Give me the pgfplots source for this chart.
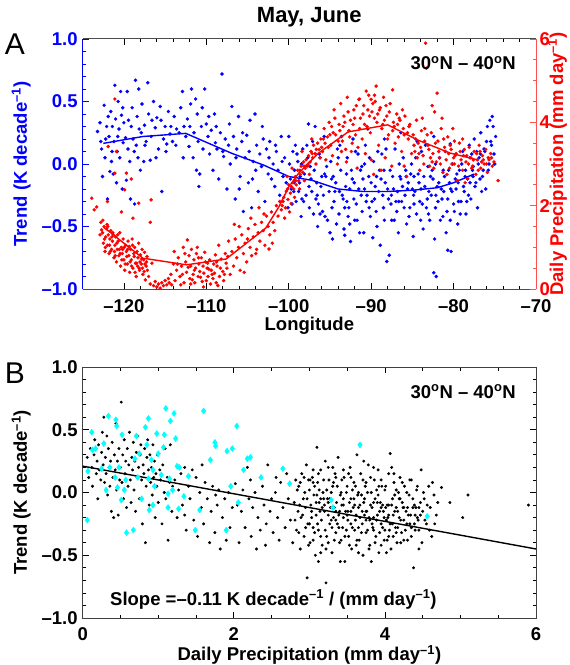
\documentclass[border=0pt]{standalone}
\usepackage{fontspec}
\setmainfont{Liberation Sans}
\usepackage{pgfplots}
\pgfplotsset{compat=1.18}
\definecolor{idlblue}{RGB}{0,0,255}
\definecolor{idlred}{RGB}{255,0,0}
\definecolor{axred}{RGB}{255,80,80}
\definecolor{idlcyan}{RGB}{0,255,255}
\newcommand{\fnt}{\bfseries\fontsize{18.5bp}{20bp}\selectfont}
\pgfplotsset{
  common/.style={scale only axis, width=453.3bp, tick align=inside,
    major tick length=6bp, minor tick length=3.5bp,
    tick label style={font=\fnt}, label style={font=\fnt},
    xticklabel style={anchor=base, yshift=-23.5bp, inner sep=0bp},
    xlabel style={inner sep=0bp},
    every tick/.style={line width=0.8bp}},
}
\begin{document}
\begin{tikzpicture}
\path[use as bounding box] (-82.7bp,-376bp) rectangle (487.3bp,289bp);
% ---------------- Panel A, left axis (trend) ----------------
\begin{axis}[common, at={(0,0)}, anchor=south west, height=250bp,
  xmin=-125, xmax=-70, ymin=-1, ymax=1,
  axis y line*=left, axis x line*=box,
  xtick={-120,-110,-100,-90,-80,-70}, xticklabels={–120,–110,–100,–90,–80,–70},
  minor x tick num=4,
  ytick={-1,-0.5,0,0.5,1}, yticklabels={–1.0,–0.5,0.0,0.5,1.0}, minor y tick num=4,
  y axis line style={-, idlblue, line width=1bp}, x axis line style={-, black!70, line width=1bp},
  y tick style={idlblue}, x tick style={black},
  yticklabel style={idlblue, xshift=-1.5bp},
  ylabel={Trend (K decade\textsuperscript{–1})},
  ylabel style={idlblue, at={(axis description cs:-0.123,0.5)}, anchor=base},
  xlabel={Longitude}, xlabel style={at={(axis description cs:0.5,-0.166)}, anchor=base},
]
\addplot[only marks, mark=*, mark size=1.55bp, idlblue] coordinates {
(-123.2,0.26)(-122.9,0.33)(-122.7,0.12)(-122.6,-0.1)(-122.4,0.47)(-122.3,0.05)(-122.2,0.2)(-122.0,-0.28)(-121.9,0.38)(-121.8,0.22)(-121.7,-0.06)(-121.6,0.42)(-121.5,0.02)(-121.4,0.3)(-121.3,-0.08)(-121.2,0.18)(-121.1,0.63)(-121.0,0.36)(-120.9,-0.15)(-120.8,0.1)(-120.7,0.5)(-120.6,0.28)(-120.5,0.05)(-120.4,0.58)(-120.3,0.39)(-120.2,-0.2)(-120.1,0.17)(-120.0,0.33)(-119.8,0.21)(-119.7,-0.13)(-119.6,0.58)(-119.5,0.12)(-119.3,0.02)(-119.2,-0.28)(-119.1,0.3)(-119.0,0.45)(-118.9,0.2)(-118.7,-0.32)(-118.6,0.67)(-118.5,0.15)(-118.4,0.38)(-118.3,0.05)(-118.2,0.6)(-118.0,-0.05)(-117.9,0.25)(-117.8,0.48)(-117.6,0.02)(-117.5,0.31)(-117.3,0.18)(-117.1,0.65)(-117.0,0.4)(-116.8,0.03)(-116.6,0.35)(-116.4,0.5)(-116.2,0.29)(-116.0,0.37)(-115.8,0.12)(-115.6,0.46)(-115.4,-0.22)(-115.2,0.2)(-115.0,0.3)(-114.8,0.16)(-114.6,0.42)(-114.4,0.24)(-114.1,0.18)(-113.9,0.38)(-113.6,0.28)(-113.3,0.25)(-113.1,0.45)
(-122.8,0.18)(-122.1,0.3)(-121.45,0.1)(-120.75,0.22)(-120.15,0.45)(-119.45,0.35)(-118.75,0.1)(-118.15,0.28)(-117.45,0.15)(-116.7,0.22)(-116.1,0.05)(-115.5,0.35)(-114.9,0.1)(-114.3,0.3)(-113.7,0.15)
(-112.9,0.58)(-112.7,0.3)(-112.5,0.22)(-112.3,0.36)(-112.1,0.14)(-111.9,0.48)(-111.8,0.6)(-111.6,0.05)(-111.5,0.25)(-111.3,0.52)(-111.1,0.4)(-111.0,0.18)(-110.8,-0.08)(-110.6,0.3)(-110.4,0.12)(-110.2,0.6)(-110.0,0.32)(-109.8,0.22)(-109.6,0.08)(-109.4,0.27)(-109.2,-0.05)(-109.0,0.4)(-108.9,0.17)(-108.7,0.12)(-108.5,-0.12)(-108.3,0.25)(-108.1,0.72)(-107.9,0.06)(-107.7,0.2)(-107.5,-0.2)(-107.3,0.15)(-107.1,0.0)(-106.9,0.46)(-106.7,0.22)(-106.5,-0.28)(-106.3,0.12)(-106.1,0.38)(-105.9,-0.1)(-105.7,0.18)(-105.5,-0.38)(-105.3,0.05)(-105.1,0.23)(-104.9,-0.15)(-104.7,0.35)(-104.5,-0.35)(-104.3,0.02)(-104.1,0.4)(-103.9,0.15)(-103.7,-0.22)(-103.5,0.08)(-103.3,-0.02)(-103.1,0.2)(-102.9,-0.3)(-102.7,0.12)(-102.5,-0.08)(-102.3,0.18)(-102.1,-0.12)(-101.9,0.0)(-101.7,-0.18)(-101.5,0.1)(-101.3,-0.05)(-101.1,-0.25)(-100.9,0.22)(-100.7,-0.1)(-100.5,0.05)(-100.3,-0.15)(-100.1,-0.35)
(-112.8,0.05)(-112.0,0.3)(-111.2,-0.05)(-110.5,0.45)(-109.7,0.38)(-108.8,0.3)(-108.0,0.1)(-107.2,0.32)(-106.4,0.05)(-105.6,0.25)(-104.8,0.1)(-104.0,-0.05)(-103.2,0.3)(-102.4,0.05)(-101.6,0.15)(-100.8,0.02)(-110.9,-0.18)(-106.0,-0.2)(-104.4,-0.12)
(-99.9,0.0)(-99.7,-0.2)(-99.5,0.1)(-99.3,-0.05)(-99.1,-0.3)(-98.9,0.02)(-98.7,-0.15)(-98.5,-0.42)(-98.3,0.12)(-98.1,-0.08)(-97.9,-0.25)(-97.7,0.05)(-97.5,-0.35)(-97.3,-0.12)(-97.1,0.18)(-96.9,-0.05)(-96.7,-0.28)(-96.5,-0.5)(-96.3,0.08)(-96.1,-0.18)(-95.9,-0.38)(-95.7,0.22)(-95.5,-0.1)(-95.3,-0.45)(-95.1,-0.22)(-94.9,0.02)(-94.7,-0.6)(-94.5,-0.3)(-94.3,-0.15)(-94.1,0.12)(-93.9,-0.4)(-93.7,-0.05)(-93.5,-0.25)(-93.3,-0.52)(-93.1,-0.18)(-92.9,0.05)(-92.7,-0.35)(-92.5,-0.62)(-92.3,-0.12)(-92.1,-0.28)(-91.9,0.1)(-91.7,-0.45)(-91.5,-0.2)(-91.3,-0.05)(-91.1,-0.38)(-90.9,-0.55)(-90.7,0.15)(-90.5,-0.25)(-90.3,-0.1)(-90.1,-0.42)(-89.9,-0.3)(-89.7,0.02)(-89.5,-0.18)(-89.3,-0.5)(-89.1,-0.22)(-88.9,-0.65)(-88.7,0.08)(-88.5,-0.35)(-88.3,-0.15)(-88.1,-0.78)(-87.9,-0.28)(-87.7,-0.05)(-87.5,-0.45)(-87.3,-0.2)(-87.1,0.12)(-86.9,-0.38)(-86.7,-0.55)(-86.5,-0.1)(-86.3,-0.3)(-86.1,0.05)(-85.9,-0.25)(-85.7,-0.48)(-85.5,-0.15)(-85.3,-0.35)(-85.1,0.0)(-84.9,-0.58)(-84.7,-0.22)(-84.5,-0.4)(-84.3,-0.08)(-84.1,-0.3)(-83.9,0.1)(-83.7,-0.52)(-83.5,-0.18)(-83.3,-0.35)(-83.1,-0.02)(-82.9,-0.45)(-82.7,-0.25)(-82.5,-0.12)(-82.3,-0.6)(-82.1,-0.9)(-81.9,-0.3)(-81.7,0.05)(-81.5,-0.2)(-81.3,-0.42)(-81.1,-0.1)(-80.9,-0.55)(-80.7,-0.28)(-80.5,-0.15)(-80.3,-0.7)(-80.1,0.0)(-79.9,-0.38)(-79.7,-0.2)(-79.5,-0.48)(-79.3,-0.05)(-79.1,-0.3)(-78.9,0.1)(-78.7,-0.22)(-78.5,-0.4)(-78.3,-0.12)(-78.1,0.15)(-77.9,-0.28)(-77.7,-0.05)(-77.5,0.2)(-77.3,-0.15)(-77.1,-0.35)(-76.9,0.05)(-76.7,0.25)(-76.5,-0.1)(-76.3,0.12)(-76.1,-0.2)(-75.9,0.3)(-75.7,0.0)(-75.5,0.18)(-75.3,0.38)(-75.1,0.08)(-74.9,0.22)
(-99.8,-0.12)(-99.4,-0.22)(-99.0,0.08)(-98.6,-0.1)(-98.2,-0.3)(-97.8,0.15)(-97.4,-0.02)(-97.0,-0.4)(-96.6,-0.15)(-96.2,0.05)(-95.8,-0.25)(-95.4,-0.02)(-95.0,-0.55)(-94.6,-0.1)(-94.2,-0.48)(-93.8,0.15)(-93.4,-0.28)(-93.0,-0.08)(-92.6,-0.2)(-92.2,0.2)(-91.8,-0.32)(-91.4,-0.55)(-91.0,-0.12)(-90.6,-0.3)(-90.2,0.05)(-89.8,-0.59)(-89.4,-0.38)(-89.0,-0.05)(-88.6,-0.25)(-88.2,0.12)(-87.8,-0.73)(-87.4,-0.1)(-87.0,-0.3)(-86.6,0.0)(-86.2,-0.18)(-85.8,-0.05)(-85.4,-0.42)(-85.0,-0.2)(-84.6,0.05)(-84.2,-0.15)(-83.8,-0.32)(-83.4,0.15)(-83.0,-0.22)(-82.6,-0.05)(-82.4,-0.87)(-82.2,-0.35)(-81.8,-0.15)(-81.4,-0.28)(-81.0,0.1)(-80.6,-0.05)(-80.2,-0.22)(-79.8,-0.12)(-79.4,-0.3)(-79.0,0.0)(-78.6,-0.1)(-78.2,-0.25)(-77.8,0.08)(-77.4,-0.18)(-77.0,0.0)(-76.6,-0.22)(-76.2,0.1)(-75.8,-0.05)(-75.6,0.35)(-75.2,0.3)(-75.4,0.15)
(-96.8,0.3)(-93.6,0.22)(-90.4,0.28)(-88.4,0.2)(-86.4,0.25)(-84.4,0.18)(-82.4,0.22)(-80.4,0.16)(-91.6,0.08)(-97.6,0.32)(-100.0,0.22)(-93.2,-0.57)(-80.7,-0.69)
(-98.8,-0.22)(-96.4,-0.32)(-94.8,-0.12)(-92.8,-0.42)(-90.8,-0.2)(-88.8,-0.12)(-86.8,-0.22)(-84.8,-0.32)(-82.8,-0.1)(-80.8,-0.38)(-78.8,-0.18)(-76.8,-0.12)
(-99.6,-0.32)(-99.2,0.15)(-98.4,-0.28)(-98.0,-0.02)(-97.2,-0.22)(-96.0,-0.1)(-95.6,-0.42)(-94.4,-0.22)(-94.0,0.05)(-93.2,-0.35)(-92.4,-0.05)(-92.0,-0.45)(-91.2,-0.25)(-90.0,-0.15)(-89.6,-0.28)(-89.2,0.1)(-88.0,-0.2)(-87.6,-0.32)(-87.2,-0.45)(-86.0,-0.35)(-85.6,-0.2)(-85.2,-0.08)(-84.0,-0.45)(-83.6,-0.1)(-83.2,-0.28)(-82.0,-0.18)(-81.6,-0.45)(-81.2,-0.22)(-80.0,-0.32)(-79.6,-0.08)(-79.2,-0.4)(-78.4,-0.3)(-78.0,-0.15)(-77.6,-0.02)(-77.2,0.1)(-76.4,-0.05)(-76.0,0.18)(-75.0,0.0)(-96.2,-0.4)(-92.6,-0.48)(-88.4,-0.45)(-84.8,-0.1)(-80.4,-0.45)(-90.8,0.0)(-86.4,-0.12)(-82.2,0.0)(-78.0,0.05)
(-99.35,-0.15)(-98.45,0.0)(-97.55,-0.18)(-96.55,-0.25)(-95.65,-0.08)(-94.75,-0.35)(-93.85,-0.22)(-92.95,-0.3)(-92.05,-0.15)(-91.15,-0.02)(-90.25,-0.35)(-89.35,-0.1)(-88.45,-0.05)(-87.55,-0.25)(-86.65,-0.3)(-85.75,-0.1)(-84.85,-0.25)(-83.95,-0.2)(-83.05,-0.4)(-82.15,-0.25)(-81.25,-0.05)(-80.35,-0.2)(-79.45,-0.15)(-78.55,-0.05)(-77.65,-0.1)(-76.75,0.08)
};
\addplot[idlblue, line width=1.4bp] coordinates {
(-122.5,0.165)(-117.7,0.22)(-112.5,0.245)(-106.9,0.085)(-103,-0.01)(-100,-0.10)(-97.2,-0.13)(-94,-0.2)(-91,-0.22)(-88,-0.22)(-85,-0.21)(-82,-0.19)(-80,-0.15)(-77.5,-0.08)
};
\end{axis}
% ---------------- Panel A, right axis (precipitation) ----------------
\begin{axis}[common, at={(0,0)}, anchor=south west, height=250bp,
  xmin=-125, xmax=-70, ymin=0, ymax=6,
  axis y line*=right, axis x line=none,
  ytick={0,2,4,6}, yticklabels={0,2,4,6}, minor y tick num=3,
  y axis line style={-, axred, line width=1bp}, y tick style={axred},
  yticklabel style={idlred},
  ylabel={Daily Precipitation (mm day\textsuperscript{–1})},
  ylabel style={idlred, at={(axis description cs:1.0596,0.5)}, anchor=base},
]
\addplot[only marks, mark=*, mark size=1.55bp, idlred] coordinates {
(-122.8,1.6)(-122.6,1.35)(-122.5,1.1)(-122.4,1.5)(-122.3,0.9)(-122.2,1.25)(-122.1,1.45)(-122.0,1.05)(-121.9,1.3)(-121.8,0.85)(-121.7,1.2)(-121.6,1.4)(-121.5,0.95)(-121.4,1.15)(-121.3,1.3)(-121.2,0.75)(-121.1,1.05)(-121.0,1.25)(-120.9,0.65)(-120.8,0.95)(-120.7,1.15)(-120.6,0.8)(-120.5,1.35)(-120.4,0.55)(-120.3,1.0)(-120.2,0.85)(-120.1,1.2)(-120.0,0.7)(-119.9,0.45)(-119.8,1.05)(-119.7,0.9)(-119.6,0.6)(-119.5,1.15)(-119.4,0.8)(-119.3,0.4)(-119.2,0.95)(-119.1,0.7)(-119.0,1.2)(-118.9,0.5)(-118.8,0.85)(-118.7,1.0)(-118.6,0.62)(-118.5,0.3)(-118.4,0.9)(-118.3,0.75)(-118.2,1.1)(-118.1,0.45)(-118.0,0.82)(-117.9,0.6)(-117.8,0.95)(-117.7,0.35)(-117.6,0.7)(-117.5,0.88)(-117.4,0.22)(-117.3,0.55)(-117.2,0.78)(-117.0,0.3)(-116.8,0.12)(-116.6,0.62)(-116.4,0.08)(-116.2,0.18)(-116.0,0.05)(-115.8,0.12)(-115.6,0.02)(-115.4,0.15)(-115.2,0.08)(-115.0,0.2)(-114.8,0.1)(-114.6,0.25)(-114.5,0.15)
(-122.7,1.42)(-122.35,1.2)(-122.05,1.55)(-121.75,1.05)(-121.45,1.25)(-121.15,0.9)(-120.85,1.1)(-120.55,0.95)(-120.25,0.7)(-119.95,1.0)(-119.65,0.78)(-119.35,1.02)(-119.05,0.55)(-118.75,0.78)(-118.45,0.62)(-118.15,0.5)(-117.85,0.72)(-117.55,0.42)(-117.25,0.65)
(-122.9,1.3)(-122.55,1.65)(-122.25,1.0)(-121.95,1.5)(-121.65,0.9)(-121.35,1.35)(-121.05,0.8)(-120.75,1.3)(-120.45,0.85)(-120.15,0.95)(-119.85,0.6)(-119.55,0.95)(-119.25,0.65)(-118.95,1.05)(-118.65,0.4)(-118.35,0.55)(-118.05,0.65)(-117.75,0.5)(-117.45,0.6)(-117.15,0.45)
(-123.9,2.18)(-123.3,1.97)(-123.6,1.9)(-121.9,3.42)(-121.1,4.56)(-120.9,3.3)(-121.1,2.78)(-119.7,2.78)(-119.1,2.64)(-119.9,2.38)(-118.2,2.06)(-118.9,1.7)(-116.7,2.14)(-116.8,1.6)(-122.0,2.1)(-120.3,1.85)
(-114.3,0.35)(-114.0,0.6)(-113.8,0.2)(-113.6,0.45)(-113.4,0.75)(-113.2,0.3)(-113.0,0.55)(-112.8,1.0)(-112.7,0.15)(-112.5,0.65)(-112.4,0.4)(-112.3,1.18)(-112.1,0.8)(-112.0,0.25)(-111.9,0.55)(-111.8,0.95)(-111.6,0.35)(-111.5,0.7)(-111.4,0.15)(-111.3,0.5)(-111.2,0.85)(-111.0,0.3)(-110.9,0.6)(-110.8,0.42)(-110.6,0.75)(-110.5,0.18)(-110.4,0.55)(-110.3,0.38)(-110.1,0.65)(-110.0,0.2)(-109.9,0.5)(-109.8,0.3)(-109.6,0.7)(-109.5,0.12)(-109.4,0.45)(-109.2,0.25)(-109.1,0.6)(-109.0,0.38)(-108.8,0.15)(-108.7,0.55)(-108.5,1.05)(-108.4,0.3)(-108.2,0.72)(-108.0,0.42)(-107.9,0.2)(-107.7,0.85)(-107.5,0.5)(-107.3,1.15)(-107.1,0.35)
(-113.9,0.9)(-113.1,0.1)(-112.2,0.52)(-111.7,0.22)(-110.7,0.28)(-109.7,0.48)(-108.9,0.82)(-108.6,0.08)(-107.6,0.62)(-110.2,0.88)(-111.1,1.0)
(-114.2,0.1)(-113.5,0.6)(-112.9,0.35)(-112.6,0.85)(-111.9,0.12)(-111.45,0.45)(-110.95,0.75)(-110.35,0.05)(-109.85,0.62)(-109.3,0.35)(-108.75,0.65)(-108.3,0.5)(-107.8,0.35)(-107.4,0.78)
(-106.9,0.9)(-106.7,0.55)(-106.5,1.2)(-106.3,0.75)(-106.1,1.0)(-105.9,0.45)(-105.7,1.3)(-105.5,0.85)(-105.3,1.1)(-105.1,0.65)(-104.9,1.45)(-104.7,1.0)(-104.5,0.8)(-104.3,1.25)(-104.1,1.55)(-103.9,0.95)(-103.7,1.35)(-103.5,1.15)(-103.3,1.6)(-103.1,1.4)(-102.9,1.05)(-102.7,1.75)(-102.5,1.5)(-102.3,1.3)(-102.1,1.85)(-101.9,1.6)(-101.7,1.4)(-101.5,2.0)(-101.3,1.75)(-101.1,2.1)(-100.9,1.9)
(-106.0,1.5)(-105.0,1.2)(-104.0,0.85)(-103.0,1.8)(-102.0,1.1)(-104.6,1.7)(-103.6,1.95)(-105.4,0.4)(-106.6,1.55)(-102.4,0.96)
(-100.8,2.0)(-100.6,2.2)(-100.4,1.95)(-100.3,2.35)(-100.1,2.15)(-100.0,2.5)(-99.8,2.3)(-99.7,2.05)(-99.5,2.55)(-99.4,2.4)(-99.2,2.7)(-99.1,2.5)(-98.9,2.85)(-98.8,2.6)(-98.6,2.75)(-98.5,2.95)(-98.3,2.8)(-98.2,3.05)(-98.0,2.9)(-97.9,3.1)(-97.7,2.95)(-97.6,3.2)(-97.4,3.05)(-97.3,3.3)(-97.1,3.15)(-97.0,3.45)(-96.8,3.25)(-96.7,3.0)(-96.5,3.5)(-96.3,3.35)(-96.1,3.6)
(-100.5,1.7)(-99.9,1.85)(-99.3,2.2)(-98.7,2.4)(-98.1,2.6)(-97.5,2.75)(-99.6,2.9)(-98.4,3.3)(-97.2,3.6)(-100.2,2.7)
(-100.7,2.1)(-100.15,2.4)(-99.65,2.45)(-99.15,2.6)(-98.65,2.85)(-98.15,2.95)(-97.65,3.0)(-97.15,3.25)(-96.65,3.35)(-96.2,3.15)(-96.0,3.4)
(-95.9,3.3)(-95.7,3.85)(-95.5,3.1)(-95.3,3.65)(-95.1,4.0)(-94.9,3.45)(-94.7,3.2)(-94.5,4.3)(-94.3,3.7)(-94.1,3.0)(-93.9,3.95)(-93.7,4.45)(-93.5,3.55)(-93.3,4.15)(-93.1,3.35)(-92.9,4.6)(-92.7,3.8)(-92.5,4.05)(-92.3,3.5)(-92.1,4.3)(-91.9,3.7)(-91.7,2.9)(-91.5,4.55)(-91.3,4.1)(-91.1,3.6)(-90.9,4.4)(-90.7,3.25)(-90.5,3.9)(-90.3,4.65)(-90.1,3.75)(-89.9,4.25)(-89.7,2.75)(-89.5,4.5)(-89.3,4.0)(-89.1,3.45)(-88.9,4.35)(-88.7,3.85)(-88.5,4.6)(-88.3,3.15)(-88.1,4.15)(-87.9,3.7)(-87.7,4.45)(-87.5,2.95)(-87.3,4.0)(-87.1,3.5)(-86.9,4.2)(-86.7,3.65)(-86.5,4.05)(-86.3,3.3)(-86.1,3.85)(-85.9,4.15)(-85.7,2.7)(-85.5,3.6)(-85.3,3.95)(-85.1,3.25)
(-95.8,3.6)(-95.2,3.4)(-94.6,3.75)(-94.0,3.55)(-93.4,3.9)(-92.8,4.25)(-92.2,3.95)(-91.6,3.4)(-91.0,4.2)(-90.4,4.3)(-89.8,4.45)(-89.2,4.2)(-88.6,3.95)(-88.0,3.6)(-87.4,3.8)(-86.8,3.95)(-86.2,4.3)(-85.6,3.75)(-89.4,4.87)(-87.4,4.78)(-91.4,4.56)(-93.0,3.05)(-90.0,3.1)(-88.8,2.85)(-86.0,2.95)(-90.6,4.75)(-89.6,4.65)(-92.4,3.3)
(-95.6,3.5)(-95.0,3.7)(-94.4,4.1)(-93.8,3.8)(-93.2,4.0)(-92.6,3.65)(-92.0,4.1)(-91.4,3.85)(-90.8,3.95)(-90.2,4.15)(-89.6,4.1)(-89.0,4.3)(-88.4,4.05)(-87.8,4.25)(-87.2,3.9)(-86.6,4.1)(-86.0,3.7)(-85.4,3.9)(-91.8,4.4)(-90.0,4.55)(-88.2,4.4)(-93.6,3.3)(-94.8,3.9)
(-84.9,3.7)(-84.7,3.3)(-84.5,4.05)(-84.3,3.5)(-84.1,2.85)(-83.9,3.8)(-83.7,3.2)(-83.5,3.55)(-83.4,5.9)(-83.3,5.3)(-83.1,3.45)(-82.9,2.95)(-82.7,3.75)(-82.5,3.25)(-82.3,4.25)(-82.1,3.05)(-82.0,4.7)(-81.9,3.55)(-81.7,3.15)(-81.5,3.85)(-81.3,2.8)(-81.1,3.4)(-80.9,3.1)(-80.7,3.65)(-80.5,2.9)(-80.3,3.35)(-80.1,3.85)(-79.9,3.0)(-79.7,3.25)(-79.5,2.6)(-79.3,3.5)(-79.1,3.1)(-78.9,2.85)(-78.7,3.35)(-78.5,3.05)(-78.3,2.65)(-78.1,3.4)(-77.9,3.15)(-77.7,2.95)(-77.5,3.3)(-77.3,2.75)(-77.1,3.1)(-76.9,3.45)(-76.7,2.9)(-76.5,3.2)(-76.3,3.0)(-76.1,3.35)(-75.9,2.8)(-75.7,3.1)(-75.5,3.25)(-75.3,2.95)(-75.1,3.05)(-74.6,2.6)
(-84.8,3.45)(-84.2,3.25)(-83.6,3.0)(-83.0,3.35)(-82.4,2.9)(-81.8,3.3)(-81.2,3.6)(-80.6,3.25)(-80.0,3.15)(-79.4,2.95)(-78.8,3.2)(-78.2,3.0)(-77.6,3.1)(-77.0,2.85)(-76.4,3.1)(-75.8,3.15)(-79.9,3.55)(-81.4,4.1)(-83.8,4.1)(-82.6,4.4)(-78.6,2.55)(-80.8,2.75)
(-84.6,3.6)(-84.0,3.4)(-83.2,3.7)(-82.8,3.15)(-82.2,3.5)(-81.6,3.0)(-81.0,3.3)(-80.4,3.45)(-79.8,3.2)(-79.2,3.3)(-78.4,3.2)(-77.8,2.9)(-77.2,3.25)(-76.6,3.05)(-76.0,3.0)(-75.4,3.15)(-80.2,3.0)(-82.6,3.05)(-83.5,3.85)(-84.4,3.15)(-78.9,3.6)(-76.8,3.3)
};
\addplot[idlred, line width=1.4bp] coordinates {
(-122.5,1.49)(-117.7,0.74)(-112.4,0.58)(-107.6,0.72)(-102.8,1.46)(-101.2,1.97)(-100,2.45)(-98.8,2.78)(-96.4,3.26)(-92.8,3.77)(-88,3.94)(-84.4,3.58)(-80.4,3.26)(-77.1,3.1)
};
\end{axis}
% ---------------- Panel B ----------------
\begin{axis}[common, at={(0,-329bp)}, anchor=south west, height=251bp,
  xmin=0, xmax=6, ymin=-1, ymax=1,
  xtick={0,2,4,6}, xticklabels={0,2,4,6}, minor x tick num=3,
  xticklabel style={yshift=1bp},
  ytick={-1,-0.5,0,0.5,1}, yticklabels={–1.0,–0.5,0.0,0.5,1.0}, minor y tick num=4,
  axis line style={black!75, line width=1bp},
  yticklabel style={xshift=-1.5bp},
  ylabel={Trend (K decade\textsuperscript{–1})},
  ylabel style={at={(axis description cs:-0.123,0.5)}, anchor=base},
  xlabel={Daily Precipitation (mm day\textsuperscript{–1})},
  xlabel style={at={(axis description cs:0.5,-0.171)}, anchor=base},
]
\addplot[only marks, mark=*, mark size=1.3bp, black] coordinates {
(0.06,0.28)(0.08,0.12)(0.1,0.35)(0.12,0.2)(0.13,0.05)(0.15,0.3)(0.16,0.42)(0.18,0.15)(0.19,0.25)(0.2,-0.05)(0.21,0.38)(0.22,0.18)(0.24,0.1)(0.25,0.32)(0.26,0.48)(0.27,0.22)(0.28,0.6)(0.29,0.08)(0.3,0.28)(0.31,0.15)(0.32,0.45)(0.33,-0.02)(0.34,0.35)(0.35,0.2)(0.36,0.05)(0.37,0.25)(0.38,-0.15)(0.39,0.4)(0.4,0.12)(0.41,-0.2)(0.42,0.3)(0.43,0.18)(0.44,0.55)(0.45,0.02)(0.46,0.25)(0.47,-0.18)(0.48,0.35)(0.49,0.1)
(0.5,0.2)(0.51,0.72)(0.52,0.08)(0.53,0.3)(0.54,-0.05)(0.55,0.42)(0.56,0.15)(0.57,0.25)(0.58,-0.12)(0.59,0.35)(0.6,0.05)(0.61,0.22)(0.62,0.48)(0.63,0.1)(0.64,-0.08)(0.65,0.28)(0.66,0.18)(0.67,0.4)(0.68,0.02)(0.69,0.25)(0.7,-0.15)(0.71,0.32)(0.72,0.12)(0.73,0.45)(0.74,0.2)(0.75,-0.05)(0.76,0.3)(0.77,0.38)(0.78,0.1)(0.79,-0.25)(0.8,0.22)(0.81,0.15)(0.82,0.35)(0.83,-0.4)(0.84,0.05)(0.85,0.28)(0.86,0.42)(0.87,0.18)(0.88,-0.1)(0.89,0.3)(0.9,0.08)(0.91,0.2)(0.92,-0.02)(0.93,0.38)(0.94,0.12)(0.95,0.25)(0.96,-0.2)(0.97,0.15)(0.98,0.05)(0.99,0.3)(1.0,-0.08)(1.02,0.18)(1.03,0.1)(1.05,-0.25)(1.06,0.22)(1.08,0.0)(1.09,0.35)(1.1,-0.05)(1.12,0.12)(1.13,-0.38)(1.15,0.08)(1.16,0.38)(1.18,-0.15)(1.19,0.05)
(1.22,0.1)(1.25,-0.2)(1.27,0.02)(1.3,0.15)(1.32,-0.1)(1.35,0.2)(1.37,-0.3)(1.4,0.05)(1.42,-0.05)(1.45,0.18)(1.47,-0.22)(1.5,0.12)(1.52,-0.35)(1.55,0.0)(1.57,-0.12)(1.6,-0.25)(1.62,0.08)(1.65,-0.05)(1.68,-0.4)(1.7,-0.15)(1.72,0.05)(1.75,-0.32)(1.78,-0.1)(1.8,0.02)(1.82,-0.45)(1.85,-0.2)(1.88,-0.05)(1.9,-0.38)(1.93,0.0)(1.95,-0.28)(1.98,-0.12)(1.35,-0.18)(1.58,0.22)(1.76,-0.02)
(2.02,0.07)(2.05,-0.1)(2.07,-0.4)(2.1,-0.15)(2.12,0.02)(2.15,-0.28)(2.18,0.2)(2.2,-0.05)(2.23,-0.35)(2.25,-0.12)(2.28,0.0)(2.3,-0.45)(2.32,-0.2)(2.35,-0.3)(2.38,0.05)(2.4,-0.1)(2.43,-0.25)(2.45,0.22)(2.48,-0.15)(2.5,-0.05)(2.52,-0.32)(2.55,0.0)(2.58,-0.2)(2.6,-0.38)(2.62,0.08)(2.65,-0.12)(2.68,-0.28)(2.7,0.15)(2.72,-0.05)(2.75,-0.22)(2.78,-0.4)(2.42,-0.42)(2.22,0.1)(2.56,0.12)
(2.8,-0.08)(2.82,0.1)(2.83,-0.3)(2.85,-0.15)(2.86,0.05)(2.88,-0.45)(2.89,-0.2)(2.9,0.15)(2.92,-0.05)(2.93,-0.35)(2.95,-0.12)(2.96,0.22)(2.97,-0.68)(2.98,-0.25)(3.0,0.02)(3.01,-0.4)(3.02,-0.1)(3.04,0.12)(3.05,-0.28)(3.06,-0.02)(3.08,-0.5)(3.09,-0.18)(3.1,0.36)(3.11,0.08)(3.12,-0.3)(3.13,-0.08)(3.15,0.18)(3.16,-0.22)(3.17,-0.42)(3.18,0.0)(3.2,-0.15)(3.21,0.25)(3.22,-0.72)(3.23,-0.35)(3.24,-0.05)(3.26,0.1)(3.27,-0.25)(3.28,-0.12)(3.3,-0.48)(3.31,0.05)(3.32,-0.2)(3.34,0.15)(3.35,-0.32)(3.36,-0.08)(3.38,0.28)(3.39,-0.18)(3.4,-0.4)(3.42,0.0)(3.43,-0.1)(3.44,-0.28)(3.46,0.12)(3.47,-0.55)(3.48,-0.15)(3.5,0.05)(3.51,-0.22)(3.52,-0.35)(3.54,0.2)(3.55,-0.05)(3.56,-0.45)(3.58,-0.12)(3.59,0.08)(3.6,-0.3)(3.62,-0.18)(3.63,0.3)(3.64,-0.02)(3.66,-0.38)(3.67,-0.1)(3.68,0.15)(3.7,-0.25)(3.71,-0.5)(3.72,-0.08)(3.74,0.05)(3.75,-0.32)(3.76,-0.15)(3.78,0.22)(3.79,-0.2)(3.8,-0.42)(3.82,0.0)(3.83,-0.12)(3.84,-0.28)(3.86,0.1)(3.87,-0.05)(3.88,-0.35)(3.9,-0.18)(3.91,0.18)(3.92,-0.48)(3.94,-0.08)(3.95,-0.25)(3.96,0.05)(3.98,-0.15)(3.99,-0.38)(4.0,0.02)(4.02,-0.22)(4.03,-0.1)(4.05,0.15)(4.06,-0.3)(4.07,0.31)(4.08,-0.45)(4.1,-0.05)(4.11,-0.18)(4.12,0.08)(4.14,-0.28)(4.15,-0.12)(4.16,-0.4)(4.18,0.0)(4.19,-0.2)(4.2,0.12)(4.22,-0.32)(4.23,-0.08)(4.25,-0.22)(4.26,0.05)(4.28,-0.15)(4.3,-0.38)(4.32,-0.02)(4.33,-0.25)(4.35,0.1)(4.37,-0.12)(4.38,-0.6)(4.4,-0.3)(4.42,0.02)(4.43,-0.2)(4.45,-0.45)(4.47,-0.08)(4.48,0.18)(4.5,-0.15)(4.52,-0.05)(4.55,-0.25)(4.58,0.05)(4.6,-0.12)(4.62,-0.35)(4.65,-0.02)(4.68,-0.18)
(2.87,-0.1)(2.94,0.0)(3.03,-0.2)(3.07,0.05)(3.14,-0.15)(3.19,-0.05)(3.25,-0.18)(3.29,0.0)(3.33,-0.12)(3.37,-0.25)(3.41,-0.02)(3.45,-0.2)(3.49,-0.3)(3.53,-0.08)(3.57,0.02)(3.61,-0.22)(3.65,-0.12)(3.69,-0.02)(3.73,-0.18)(3.77,-0.3)(3.81,-0.1)(3.85,-0.2)(3.89,0.02)(3.93,-0.15)(3.97,-0.28)(4.01,-0.12)(4.04,-0.2)(4.09,-0.1)(4.13,-0.02)(4.17,-0.15)(4.21,-0.22)(4.24,-0.12)(4.29,-0.25)(4.34,-0.18)(4.39,-0.1)(4.44,-0.22)(3.15,-0.35)(3.35,0.12)(3.55,-0.25)(3.75,0.08)(3.95,-0.42)(3.45,0.18)(3.25,0.2)(3.65,-0.48)(3.85,0.2)(4.05,-0.35)(3.05,-0.38)(2.99,0.1)(3.12,0.15)
(2.81,-0.22)(2.84,0.02)(2.86,-0.32)(2.88,0.08)(2.91,-0.18)(2.93,0.12)(2.95,-0.28)(2.97,-0.05)(2.99,-0.42)(3.01,0.1)(3.03,-0.15)(3.05,0.18)(3.07,-0.32)(3.09,-0.08)(3.11,-0.25)(3.13,0.02)(3.15,-0.48)(3.17,-0.12)(3.19,0.1)(3.21,-0.3)(3.23,0.02)(3.25,-0.4)(3.27,-0.05)(3.29,-0.22)(3.31,0.2)(3.33,-0.38)(3.35,-0.15)(3.37,0.05)(3.39,-0.28)(3.41,-0.55)(3.43,0.1)(3.45,-0.1)(3.47,-0.35)(3.49,0.0)(3.51,-0.15)(3.53,-0.42)(3.55,0.12)(3.57,-0.28)(3.59,-0.05)(3.61,0.05)(3.63,-0.38)(3.65,0.0)(3.67,-0.2)(3.69,-0.32)(3.71,0.1)(3.73,-0.05)(3.75,-0.15)(3.77,0.0)(3.79,-0.45)(3.81,0.12)(3.83,-0.25)(3.85,-0.08)(3.87,-0.4)(3.89,-0.22)(3.91,-0.02)(3.93,-0.32)(3.95,0.1)(3.97,-0.1)(3.99,-0.2)(4.01,0.05)(4.03,-0.38)(4.05,-0.1)(4.07,-0.25)(4.09,0.2)(4.11,-0.35)(4.13,-0.15)(4.15,0.02)(4.17,-0.28)(4.19,-0.05)(4.21,-0.4)(4.23,0.08)(4.25,-0.12)(4.27,-0.3)(4.29,0.0)(4.31,-0.18)(4.33,0.1)(4.35,-0.35)(4.37,-0.05)(4.39,-0.25)(4.41,-0.12)(4.43,0.05)(4.45,-0.3)(4.47,-0.18)(4.49,-0.4)(4.51,0.0)(4.53,-0.22)(4.56,-0.1)(4.59,-0.3)(4.63,0.08)(4.66,-0.25)(4.7,-0.08)
(3.0,-0.25)(3.1,-0.02)(3.2,-0.1)(3.3,-0.28)(3.4,-0.15)(3.5,-0.18)(3.6,-0.1)(3.7,-0.15)(3.8,-0.22)(3.9,-0.08)(4.0,-0.3)(4.1,-0.25)(4.2,-0.05)(4.3,-0.12)(4.4,-0.18)(3.05,0.08)(3.15,-0.05)(3.25,-0.08)(3.35,-0.22)(3.45,-0.05)(3.55,-0.15)(3.65,-0.28)(3.75,-0.22)(3.85,-0.3)(3.95,-0.12)(4.05,-0.18)(4.15,-0.32)(4.25,-0.38)(4.35,-0.28)(4.45,-0.12)(3.22,-0.45)(3.42,-0.38)(3.62,-0.42)(3.82,-0.55)(4.02,-0.48)(3.12,-0.55)(3.52,0.15)(3.72,0.25)(3.92,0.05)(4.12,0.15)(3.32,0.08)
(4.75,0.04)(4.86,-0.08)(5.1,-0.02)(5.03,-0.2)(5.9,-0.1)
};
\addplot[only marks, mark=diamond*, mark size=3bp, idlcyan] coordinates {
(0.06,-0.22)(0.12,0.48)(0.07,0.17)(0.13,0.34)(0.17,0.35)(0.25,0.19)(0.28,0.39)(0.34,0.61)(0.36,0.2)(0.31,0.02)(0.43,0.12)(0.44,0.58)(0.45,0.53)(0.46,0.04)(0.48,0.2)(0.51,-0.06)(0.52,0.46)(0.55,0.02)(0.58,-0.32)(0.57,0.1)(0.67,-0.3)(0.69,0.27)(0.71,0.45)(0.73,0.12)(0.75,0.31)(0.78,-0.05)(0.83,0.52)(0.87,0.59)(0.85,0.38)(0.87,0.11)(0.88,-0.14)(0.91,0.26)(0.93,0.18)(0.95,0.05)(0.98,0.47)(0.93,-0.1)(1.0,0.31)(1.04,0.14)(1.07,0.36)(1.08,0.46)(1.1,0.67)(1.13,-0.01)(1.13,-0.12)(1.15,0.11)(1.16,0.57)(1.19,0.02)(1.21,0.63)(1.23,0.43)(1.25,0.21)(1.27,-0.13)(1.28,0.2)(1.34,-0.03)(1.4,0.13)(1.49,-0.3)(1.55,-0.14)(1.6,0.65)(1.69,0.26)(1.75,0.4)(1.76,0.37)(1.9,-0.3)(1.91,0.33)(1.98,0.35)(1.96,0.05)(2.04,0.53)(2.06,-0.08)(2.13,0.18)(2.18,0.27)(2.22,0.28)(2.36,0.12)(2.65,0.19)(2.74,0.07)(3.29,-0.06)(3.31,-0.12)(3.67,0.38)(4.56,-0.19)
};
\addplot[black, line width=1.4bp] coordinates {(0,0.21)(6,-0.45)};
\end{axis}
% ---------------- text ----------------
\node[anchor=base, font=\bfseries\fontsize{22bp}{24bp}\selectfont] at (226.6bp,266bp) {May, June};
\node[anchor=base, font=\fontsize{30bp}{32bp}\selectfont] at (-67.7bp,234bp) {A};
\node[anchor=base, font=\fontsize{30bp}{32bp}\selectfont] at (-67.7bp,-94bp) {B};
\node[anchor=base east, font=\fnt, inner sep=0pt] at (433.3bp,219bp) {30\textsuperscript{o}N – 40\textsuperscript{o}N};
\node[anchor=base east, font=\fnt, inner sep=0pt] at (433.3bp,-109bp) {30\textsuperscript{o}N – 40\textsuperscript{o}N};
\node[anchor=base west, font=\fnt, inner sep=0pt] at (27.3bp,-316bp) {Slope =–0.11 K decade\textsuperscript{–1} / (mm day\textsuperscript{–1})};
\end{tikzpicture}
\end{document}
